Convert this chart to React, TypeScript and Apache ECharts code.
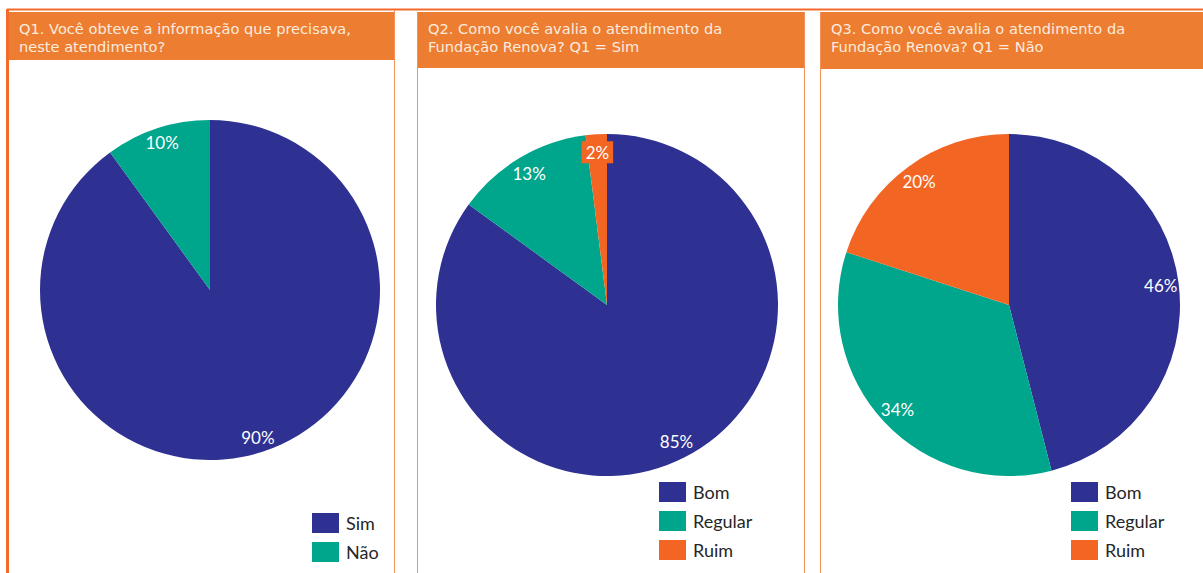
import React, { useEffect, useRef } from "react";
import * as echarts from "echarts";

const q1Names = ["Sim", "Não"];
const q1Values = [90, 10];
const q2Names = ["Bom", "Regular", "Ruim"];
const q2Values = [85, 13, 2];
const q3Names = ["Bom", "Regular", "Ruim"];
const q3Values = [46, 34, 20];
const titles = [
  "Q1. Você obteve a informação que precisava,\nneste atendimento?",
  "Q2. Como você avalia o atendimento da\nFundação Renova? Q1 = Sim",
  "Q3. Como você avalia o atendimento da\nFundação Renova? Q1 = Não",
];

const BLUE = "#2E3192";
const TEAL = "#00A68C";
const ORANGE = "#F26522";
const HEADER = "#ED7D31";
const LINE = "#F4915A";
const colorOf: Record<string, string> = {
  Sim: BLUE,
  Não: TEAL,
  Bom: BLUE,
  Regular: TEAL,
  Ruim: ORANGE,
};

function mainPie(names: string[], values: number[], center: number[], r: number) {
  return {
    type: "pie",
    center,
    radius: [0, r],
    startAngle: 90,
    clockwise: true,
    silent: true,
    label: { show: false },
    labelLine: { show: false },
    emphasis: { disabled: true },
    itemStyle: { borderWidth: 0 },
    data: names.map((n, i) => ({
      name: n,
      value: values[i],
      itemStyle: { color: colorOf[n] },
    })),
  };
}

function labelPie(
  names: string[],
  values: number[],
  center: number[],
  r0: number,
  r: number,
  boxed: string | null
) {
  return {
    type: "pie",
    center,
    radius: [r0, r],
    startAngle: 90,
    clockwise: true,
    silent: true,
    avoidLabelOverlap: false,
    emphasis: { disabled: true },
    labelLine: { show: false },
    label: {
      show: true,
      position: "inside",
      formatter: "{c}%",
      color: "#ffffff",
      fontFamily: "Lato",
      fontSize: 17,
    },
    itemStyle: { color: "transparent", borderWidth: 0 },
    data: names.map((n, i) => ({
      name: n,
      value: values[i],
      itemStyle: { color: "transparent" },
      label:
        boxed === n
          ? { backgroundColor: ORANGE, padding: [3, 4, 2, 4] }
          : undefined,
    })),
  };
}

function legend(names: string[], left: number, top: number) {
  return {
    data: names,
    orient: "vertical",
    left,
    top,
    icon: "rect",
    itemWidth: 27,
    itemHeight: 20,
    itemGap: 9,
    selectedMode: false,
    padding: 0,
    textStyle: { fontFamily: "Lato", fontSize: 18, color: "#262626", padding: [0, 0, 0, 2] },
  };
}

export default function App() {
  const ref = useRef<HTMLDivElement>(null);
  useEffect(() => {
    if (!ref.current) return;
    const chart = echarts.init(ref.current, undefined, { renderer: "svg" });
    const titleStyle = {
      color: "#FCEBDF",
      fontFamily: "DejaVu Sans",
      fontSize: 14.6,
      fontWeight: "normal",
      lineHeight: 18,
    };
    const H = 573;
    chart.setOption({
      animation: false,
      backgroundColor: "#ffffff",
      title: [
        { text: titles[0], left: 19, top: 19, padding: 0, textStyle: titleStyle },
        { text: titles[1], left: 428, top: 19, padding: 0, textStyle: titleStyle },
        { text: titles[2], left: 831, top: 19, padding: 0, textStyle: titleStyle },
      ],
      legend: [
        legend(q1Names, 312, 513),
        legend(q2Names, 659, 482),
        legend(q3Names, 1071, 482),
      ],
      graphic: [
        { type: "rect", shape: { x: 7, y: 12, width: 388, height: 48 }, style: { fill: HEADER } },
        { type: "rect", shape: { x: 417, y: 12, width: 388, height: 56 }, style: { fill: HEADER } },
        { type: "rect", shape: { x: 820, y: 12, width: 383, height: 57 }, style: { fill: HEADER } },
        { type: "line", shape: { x1: 7, y1: 9.5, x2: 1203, y2: 9.5 }, style: { stroke: "#F26B2A", lineWidth: 2 } },
        { type: "line", shape: { x1: 7.5, y1: 9, x2: 7.5, y2: H }, style: { stroke: "#F26B2A", lineWidth: 3 } },
        { type: "line", shape: { x1: 394.5, y1: 10, x2: 394.5, y2: H }, style: { stroke: LINE, lineWidth: 1 } },
        { type: "line", shape: { x1: 417.5, y1: 12, x2: 417.5, y2: H }, style: { stroke: LINE, lineWidth: 1 } },
        { type: "line", shape: { x1: 804.5, y1: 12, x2: 804.5, y2: H }, style: { stroke: LINE, lineWidth: 1 } },
        { type: "line", shape: { x1: 820.5, y1: 12, x2: 820.5, y2: H }, style: { stroke: LINE, lineWidth: 1 } },
      ],
      series: [
        mainPie(q1Names, q1Values, [210, 290], 170),
        mainPie(q2Names, q2Values, [607, 305], 171),
        mainPie(q3Names, q3Values, [1009, 305], 171),
        labelPie(q1Names, q1Values, [210, 290], 134, 170, null),
        labelPie(q2Names, q2Values, [607, 305], 129, 171, "Ruim"),
        labelPie(q3Names, q3Values, [1009, 305], 129, 171, null),
      ],
    });
    return () => chart.dispose();
  }, []);
  return (
    <div
      ref={ref}
      style={{ position: "absolute", left: 0, top: 0, width: 1203, height: 573 }}
    />
  );
}
